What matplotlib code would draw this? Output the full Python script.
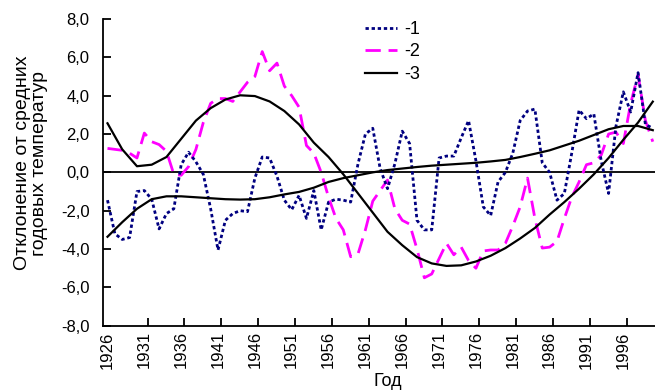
import numpy as np
import matplotlib
matplotlib.use("Agg")
import matplotlib.pyplot as plt
from matplotlib.ticker import FixedLocator, FuncFormatter

plt.rcParams["font.family"] = ["Liberation Sans", "DejaVu Sans"]

# ── данные ─────────────────────────────────────────────
years = np.arange(1926, 2001)
# ряд 1 (синий пунктир)
s1 = [-1.45, -3.2, -3.5, -3.4, -1.0, -0.95, -1.4, -2.95, -2.15, -1.9,
      0.4, 1.05, 0.55, -0.1, -1.9, -4.05, -2.5, -2.15, -2.0, -2.05,
      -0.3, 0.8, 0.75, -0.2, -1.45, -1.95, -1.2, -2.4, -0.95, -3.0,
      -1.55, -1.4, -1.45, -1.55, 0.45, 2.0, 2.3, 0.2, -0.85, 0.45,
      2.15, 1.5, -2.5, -3.0, -3.0, 0.75, 0.85, 0.85, 1.8, 2.7,
      0.6, -1.8, -2.25, -0.5, 0.0, 1.0, 2.7, 3.2, 3.3, 0.5,
      0.0, -1.45, -1.1, 1.0, 3.25, 2.8, 3.05, 0.6, -1.1, 2.4,
      4.2, 3.15, 5.2, 2.5, 2.3]
# ряд 2 (розовый штрих)
s2 = [1.25, 1.2, 1.15, 1.0, 0.75, 2.05, 1.6, 1.45, 1.1, -0.1,
      -0.15, 0.3, 1.2, 2.6, 3.6, 3.85, 3.85, 3.7, 4.2, 4.7,
      5.0, 6.3, 5.3, 5.7, 4.5, 4.0, 3.4, 1.4, 1.0, 0.0,
      -1.3, -2.4, -3.0, -4.4, -4.25, -3.0, -1.5, -0.95, -0.4, -1.9,
      -2.5, -2.7, -4.0, -5.5, -5.3, -4.5, -3.7, -4.3, -3.9, -4.6,
      -5.0, -4.1, -4.05, -4.05, -3.7, -2.8, -1.8, -0.3, -2.4, -3.95,
      -3.9, -3.6, -2.4, -1.3, -0.5, 0.4, 0.5, 0.9, 2.0, 2.1,
      1.5, 3.6, 5.1, 2.7, 1.6]
# тренды (3)
trend_years = np.arange(1926, 2001, 2)
trend1 = [-3.36, -2.6, -1.9, -1.4, -1.25, -1.25, -1.3, -1.35, -1.4, -1.42,
          -1.4, -1.3, -1.15, -1.02, -0.8, -0.5, -0.3, -0.15, 0.0, 0.12,
          0.2, 0.28, 0.35, 0.4, 0.45, 0.5, 0.57, 0.65, 0.8, 0.97,
          1.15, 1.4, 1.65, 1.95, 2.25, 2.42, 2.42, 2.2]
trend2 = [2.56, 1.2, 0.32, 0.4, 0.8, 1.75, 2.7, 3.35, 3.8, 4.02,
          3.98, 3.7, 3.2, 2.5, 1.55, 0.8, -0.1, -1.1, -2.1, -3.1,
          -3.8, -4.42, -4.75, -4.88, -4.85, -4.65, -4.35, -3.95, -3.45, -2.9,
          -2.2, -1.55, -0.85, -0.1, 0.75, 1.7, 2.6, 3.69]
tick_years = np.arange(1926, 2000, 5)
y_ticks = np.arange(-8, 9, 2)

fig = plt.figure(figsize=(6.55, 3.92), dpi=100)
ax = fig.add_axes([0.1577, 0.1691, 1.0 - 0.1577, 0.9515 - 0.1691])

ax.axhline(0, color="black", lw=1.3, zorder=1)
ax.plot(years, s1, color="#000080", lw=2.0, dashes=(1.2, 1.0), label="-1", zorder=3)
ax.plot(years, s2, color="#FF00FF", lw=2.0, dashes=(5.5, 2.8), label="-2", zorder=2)
ax.plot(trend_years, trend1, color="black", lw=1.6, label="-3", zorder=4)
ax.plot(trend_years, trend2, color="black", lw=1.6, zorder=4)

ax.set_xlim(1925.43, 2000.3)
ax.set_ylim(-8, 8)
ax.set_yticks(y_ticks)
ax.yaxis.set_major_formatter(FuncFormatter(lambda v, p: f"{v:.1f}".replace(".", ",")))
ax.set_xticks(tick_years)
ax.set_xticklabels([str(y) for y in tick_years], rotation=90)
ax.xaxis.set_minor_locator(FixedLocator(tick_years[1:] + 0.45))
ax.tick_params(axis="x", which="major", length=0, pad=4, labelsize=12)
ax.tick_params(axis="x", which="minor", length=6, width=1.3, direction="in")
ax.tick_params(axis="y", length=6, width=1.3, direction="in", pad=10, labelsize=12)
for s in ("top", "right"):
    ax.spines[s].set_visible(False)
for s in ("left", "bottom"):
    ax.spines[s].set_linewidth(1.3)

fig.text(31 / 655, 1 - 163 / 392, "Отклонение от средних\nгодовых температур",
         rotation=90, ha="center", va="center", multialignment="center",
         fontsize=14, linespacing=0.95)
fig.text(388 / 655, 1 - 382 / 392, "Год", ha="center", va="center", fontsize=13)

ax.legend(loc="upper left", bbox_to_anchor=(365 / 655, 1 - 21 / 392),
          bbox_transform=fig.transFigure, frameon=False, fontsize=13,
          handlelength=1.75, handletextpad=0.45, labelspacing=0.3,
          borderpad=0, borderaxespad=0)

fig.savefig("out.png", dpi=100)
